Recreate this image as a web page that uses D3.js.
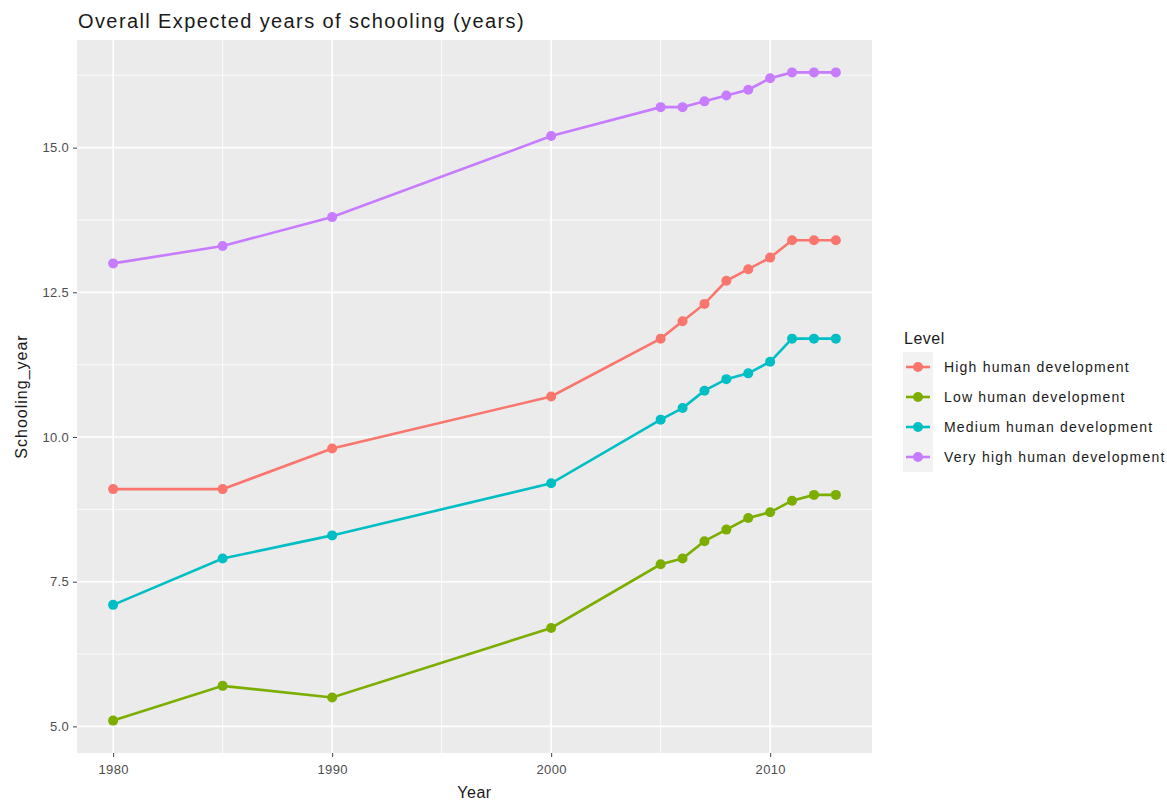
<!DOCTYPE html>
<html><head><meta charset="utf-8">
<script src="https://cdn.jsdelivr.net/npm/d3@7"></script>
<style>body{margin:0;background:#fff;} text{font-family:"Liberation Sans",Arial,sans-serif;}</style>
</head><body>
<svg id="c" width="1167" height="804"></svg>
<script>
const years = [1980,1985,1990,2000,2005,2006,2007,2008,2009,2010,2011,2012,2013];
const levels = ["High human development","Low human development","Medium human development","Very high human development"];
const high = [9.1,9.1,9.8,10.7,11.7,12.0,12.3,12.7,12.9,13.1,13.4,13.4,13.4];
const low = [5.1,5.7,5.5,6.7,7.8,7.9,8.2,8.4,8.6,8.7,8.9,9.0,9.0];
const medium = [7.1,7.9,8.3,9.2,10.3,10.5,10.8,11.0,11.1,11.3,11.7,11.7,11.7];
const veryHigh = [13.0,13.3,13.8,15.2,15.7,15.7,15.8,15.9,16.0,16.2,16.3,16.3,16.3];
const colors = ["#F8766D","#7CAE00","#00BFC4","#C77CFF"];
const xTicks = [1980,1990,2000,2010];
const xMinor = [1985,1995,2005];
const yTicks = [5.0,7.5,10.0,12.5,15.0];
const yMinor = [6.25,8.75,11.25,13.75,16.25];
const seriesVals = [high, low, medium, veryHigh];

const svg = d3.select("#c");
const P = {l:77, r:872, t:40, b:753};
const xr = [1980,2013], xe = (xr[1]-xr[0])*0.05;
const x = d3.scaleLinear().domain([xr[0]-xe, xr[1]+xe]).range([P.l,P.r]);
const allV = seriesVals.flat();
const yr = [d3.min(allV), d3.max(allV)], ye = (yr[1]-yr[0])*0.05;
const y = d3.scaleLinear().domain([yr[0]-ye, yr[1]+ye]).range([P.b,P.t]);

svg.append("rect").attr("x",P.l).attr("y",P.t).attr("width",P.r-P.l).attr("height",P.b-P.t).attr("fill","#EBEBEB");
const g = svg.append("g");
yMinor.forEach(v=>g.append("line").attr("x1",P.l).attr("x2",P.r).attr("y1",y(v)).attr("y2",y(v)).attr("stroke","#fff").attr("stroke-width",0.8));
xMinor.forEach(v=>g.append("line").attr("y1",P.t).attr("y2",P.b).attr("x1",x(v)).attr("x2",x(v)).attr("stroke","#fff").attr("stroke-width",0.8));
yTicks.forEach(v=>g.append("line").attr("x1",P.l).attr("x2",P.r).attr("y1",y(v)).attr("y2",y(v)).attr("stroke","#fff").attr("stroke-width",1.6));
xTicks.forEach(v=>g.append("line").attr("y1",P.t).attr("y2",P.b).attr("x1",x(v)).attr("x2",x(v)).attr("stroke","#fff").attr("stroke-width",1.6));

// axes
const xa = svg.append("g").attr("transform",`translate(0,${P.b})`)
  .call(d3.axisBottom(x).tickValues(xTicks).tickFormat(d3.format("d")).tickSize(4).tickPadding(4));
const ya = svg.append("g").attr("transform",`translate(${P.l},0)`)
  .call(d3.axisLeft(y).tickValues(yTicks).tickFormat(d3.format(".1f")).tickSize(4).tickPadding(4));
[xa,ya].forEach(a=>{a.select(".domain").remove();a.selectAll(".tick line").attr("stroke","#444");
  a.selectAll(".tick text").attr("fill","#4D4D4D").style("font-size","13px").style("letter-spacing","0.3px").style("font-family","Liberation Sans, Arial, sans-serif");});
xa.selectAll(".tick text").attr("dy","1em");

const line = d3.line().x((d,i)=>x(years[i])).y(d=>y(d));
seriesVals.forEach((vals,k)=>{
  svg.append("path").datum(vals).attr("d",line).attr("fill","none").attr("stroke",colors[k]).attr("stroke-width",2.6);
  svg.selectAll(null).data(vals).enter().append("circle")
    .attr("cx",(d,i)=>x(years[i])).attr("cy",d=>y(d)).attr("r",5).attr("fill",colors[k]);
});

svg.append("text").attr("x",78).attr("y",28).text("Overall Expected years of schooling (years)")
  .style("font-size","20px").style("letter-spacing","1.4px").attr("fill","#1a1a1a");
svg.append("text").attr("x",(P.l+P.r)/2).attr("y",798).attr("text-anchor","middle").text("Year")
  .style("font-size","16px").style("letter-spacing","0.5px").attr("fill","#1a1a1a");
svg.append("text").attr("transform",`translate(27,${(P.t+P.b)/2}) rotate(-90)`).attr("text-anchor","middle").text("Schooling_year")
  .style("font-size","16px").style("letter-spacing","1px").attr("fill","#1a1a1a");

// legend
const lg = svg.append("g").attr("transform","translate(903,0)");
lg.append("text").attr("x",1).attr("y",344).text("Level").style("font-size","16px").style("letter-spacing","0.5px").attr("fill","#1a1a1a");
levels.forEach((lab,k)=>{
  const cy = 367 + k*30;
  lg.append("rect").attr("x",0).attr("y",cy-15).attr("width",30).attr("height",30).attr("fill","#F2F2F2");
  lg.append("line").attr("x1",3).attr("x2",27).attr("y1",cy).attr("y2",cy).attr("stroke",colors[k]).attr("stroke-width",2.6);
  lg.append("circle").attr("cx",15).attr("cy",cy).attr("r",5).attr("fill",colors[k]);
  lg.append("text").attr("x",41).attr("y",cy+5).text(lab).style("font-size","14px").style("letter-spacing","1.2px").attr("fill","#1a1a1a");
});
</script>
</body></html>
